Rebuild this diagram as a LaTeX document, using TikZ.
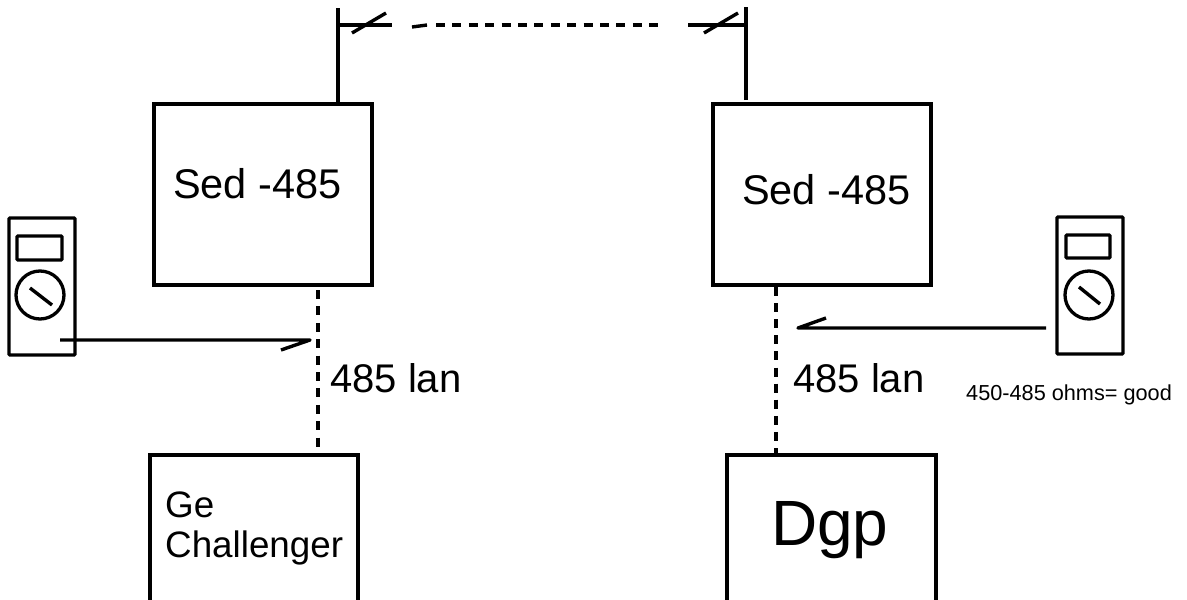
\documentclass[tikz,border=0pt]{standalone}
\usepackage{fontspec}
\setmainfont{Liberation Sans}
\tikzset{
  wire/.style={line width=3.4pt,line join=round},
  dashwire/.style={line width=3.6pt,dash pattern=on 9pt off 7.4pt},
  box/.style={draw,line width=3.3pt,inner sep=0pt,outer sep=0pt,anchor=north west},
  metercase/.style={draw,line width=3.3pt,inner sep=0pt,outer sep=0pt,anchor=north west,rounded corners=1pt},
  dial/.style={draw,circle,line width=3.3pt,inner sep=0pt,outer sep=0pt,minimum size=48pt},
  lab/.style={inner sep=0pt,anchor=base west},
}
\newcommand{\pxfont}[1]{\fontsize{#1pt}{#1pt}\selectfont}
\begin{document}
\begin{tikzpicture}[x=1pt,y=-1pt]
\useasboundingbox (0,0) rectangle (1187,600);
% boxes
\node[box,minimum width=218pt,minimum height=181pt] (sedL) at (154,104) {};
\node[box,minimum width=218pt,minimum height=181pt] (sedR) at (713,104) {};
\begin{scope}
\clip (0,0) rectangle (1187,600);
\node[box,minimum width=208pt,minimum height=155pt] (ge) at (150,455) {};
\node[box,minimum width=209pt,minimum height=155pt] (dgp) at (727,455) {};
\end{scope}
% meters
\node[metercase,minimum width=66pt,minimum height=137pt] (mL) at (9,218) {};
\node[metercase,minimum width=45pt,minimum height=24pt] (dispL) at (17,236) {};
\node[dial] (dialL) at (40,295) {};
\coordinate (nL1) at (30,288); \coordinate (nL2) at (52,305);
\draw[wire] (nL1) -- (nL2);
\node[metercase,minimum width=66pt,minimum height=137pt] (mR) at (1057,217) {};
\node[metercase,minimum width=44pt,minimum height=23pt] (dispR) at (1066,235) {};
\node[dial] (dialR) at (1089,295) {};
\coordinate (nR1) at (1079,287); \coordinate (nR2) at (1100,304);
\draw[wire] (nR1) -- (nR2);
% LAN links
\coordinate (tapL) at (318,290);
\coordinate (tapLb) at (318,450);
\coordinate (tapR) at (776,287);
\coordinate (tapRb) at (776,458);
\draw[dashwire] (tapL) -- (tapLb);
\draw[dashwire,dash pattern=on 9pt off 7.1pt] (tapR) -- (tapRb);
% probes
\coordinate (pL0) at (60,340); \coordinate (pL1) at (310,340); \coordinate (pL2) at (281,350);
\draw[wire] (pL0) -- (pL1) -- (pL2);
\coordinate (pR0) at (1046,328); \coordinate (pR1) at (798,328); \coordinate (pR2) at (826,318);
\draw[wire] (pR0) -- (pR1) -- (pR2);
% top link
\coordinate (tL0) at (338,102); \coordinate (tL1) at (338,8);
\coordinate (tR0) at (746,100); \coordinate (tR1) at (746,7);
\coordinate (hL0) at (338,25); \coordinate (hL1) at (392,25);
\coordinate (hR0) at (688,25); \coordinate (hR1) at (746,25);
\coordinate (d0) at (412,27); \coordinate (d1) at (427,25); \coordinate (d2s) at (436,25); \coordinate (d2) at (664,25);
\draw[wire] (tL0) -- (tL1);
\draw[wire] (tR0) -- (tR1);
\draw[wire] (hL0) -- (hL1);
\draw[wire] (hR0) -- (hR1);
\coordinate (sL0) at (352,33); \coordinate (sL1) at (386,13);
\coordinate (sR0) at (704,33); \coordinate (sR1) at (738,13);
\draw[wire] (sL0) -- (sL1);
\draw[wire] (sR0) -- (sR1);
\draw[wire] (d0) -- (d1);
\draw[dashwire] (d2s) -- (d2);
% labels
\node[lab] (t1) at (173,198) {\pxfont{41.5}Sed -485};
\node[lab] (t2) at (742,204) {\pxfont{41.5}Sed -485};
\node[lab] (t3) at (330,392) {\pxfont{40}485 lan};
\node[lab] (t4) at (793,392) {\pxfont{40}485 lan};
\node[lab] (t5) at (165,517) {\pxfont{36.8}Ge};
\node[lab] (t6) at (165,557) {\pxfont{36.8}Challenger};
\node[lab] (t7) at (771,545) {\pxfont{64}Dgp};
\node[lab] (t8) at (966,400) {\pxfont{21.7}450-485 ohms= good};
\end{tikzpicture}
\end{document}
